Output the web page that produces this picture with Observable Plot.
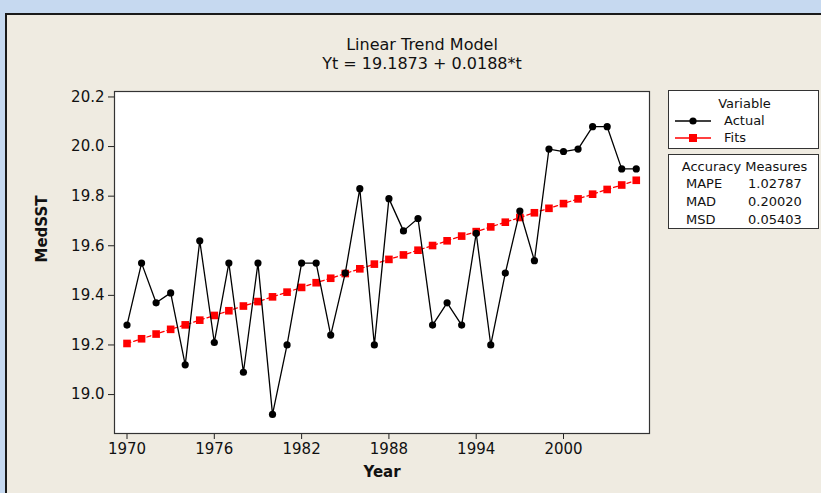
<!DOCTYPE html>
<html><head><meta charset="utf-8">
<script src="https://cdn.jsdelivr.net/npm/d3@7"></script>
<script src="https://cdn.jsdelivr.net/npm/@observablehq/plot@0.6"></script>
<style>
html,body{margin:0;padding:0;}
body{background:#c6d9f0;width:821px;height:493px;overflow:hidden;position:relative;font-family:"DejaVu Sans",Verdana,sans-serif;color:#111;}
#panel{position:absolute;left:5px;top:13px;width:816px;height:480px;background:#efebe1;border-left:2px solid #1a1a1a;border-top:2px solid #1a1a1a;box-sizing:border-box;}
#chart{position:absolute;left:0;top:0;}
.box{position:absolute;background:#fff;border:1px solid #333;box-sizing:border-box;font-size:13px;}
.t{position:absolute;white-space:nowrap;line-height:15px;}
</style>
</head><body>
<div id="panel"></div>
<div id="chart"></div>
<div class="box" style="left:668px;top:90px;width:151px;height:59px;">
  <div class="t" style="left:0;width:151px;text-align:center;top:5px;">Variable</div>
  <svg style="position:absolute;left:4px;top:23px" width="40" height="14"><line x1="2" y1="7" x2="38" y2="7" stroke="#000" stroke-width="1.3"/><circle cx="20" cy="7" r="3.6" fill="#000"/></svg>
  <div class="t" style="left:55px;top:22px;">Actual</div>
  <svg style="position:absolute;left:4px;top:40px" width="40" height="14"><line x1="2" y1="7" x2="38" y2="7" stroke="#ff0000" stroke-width="1.3"/><rect x="16" y="3" width="8" height="8" fill="#ff0000"/></svg>
  <div class="t" style="left:55px;top:39px;">Fits</div>
</div>
<div class="box" style="left:668px;top:154px;width:151px;height:75px;">
  <div class="t" style="left:0;width:151px;text-align:center;top:4px;">Accuracy Measures</div>
  <div class="t" style="left:17px;top:21px;">MAPE</div><div class="t" style="left:79px;top:21px;">1.02787</div>
  <div class="t" style="left:17px;top:39px;">MAD</div><div class="t" style="left:79px;top:39px;">0.20020</div>
  <div class="t" style="left:17px;top:57px;">MSD</div><div class="t" style="left:79px;top:57px;">0.05403</div>
</div>
<script>
const years = [1970,1971,1972,1973,1974,1975,1976,1977,1978,1979,1980,1981,1982,1983,1984,1985,1986,1987,1988,1989,1990,1991,1992,1993,1994,1995,1996,1997,1998,1999,2000,2001,2002,2003,2004,2005];
const actual = [19.28,19.53,19.37,19.41,19.12,19.62,19.21,19.53,19.09,19.53,18.92,19.20,19.53,19.53,19.24,19.49,19.83,19.20,19.79,19.66,19.71,19.28,19.37,19.28,19.65,19.20,19.49,19.74,19.54,19.99,19.98,19.99,20.08,20.08,19.91,19.91];
const fits = [19.206,19.225,19.244,19.263,19.281,19.300,19.319,19.338,19.357,19.375,19.394,19.413,19.432,19.451,19.469,19.488,19.507,19.526,19.545,19.563,19.582,19.601,19.620,19.639,19.657,19.676,19.695,19.714,19.733,19.751,19.770,19.789,19.808,19.827,19.845,19.864];
const xTicks = [1970,1976,1982,1988,1994,2000];
const yTicks = [19.0,19.2,19.4,19.6,19.8,20.0,20.2];
const title = "Linear Trend Model";
const subtitle = "Yt = 19.1873 + 0.0188*t";
const xLabel = "Year";
const yLabel = "MedSST";

const rowsA = years.map((y,i)=>({year:y, value:actual[i]}));
const rowsF = years.map((y,i)=>({year:y, value:fits[i]}));

const chart = Plot.plot({
  width: 821, height: 493,
  marginLeft: 114, marginRight: 172, marginTop: 91, marginBottom: 60,
  style: {background:"transparent", fontFamily:"DejaVu Sans, Verdana, sans-serif", fontSize:"15px", color:"#111"},
  x: {domain:[1969.14, 2005.91]},
  y: {domain:[18.843, 20.222]},
  marks: [
    Plot.frame({fill:"#fff", stroke:null}),
    Plot.axisX({ticks:xTicks, tickFormat:"d", tickSize:6, tickPadding:4, label:null, stroke:"#222"}),
    Plot.axisY({ticks:yTicks, tickFormat:".1f", tickSize:6, tickPadding:4, label:null, stroke:"#222"}),
    Plot.line(rowsF, {x:"year", y:"value", stroke:"#ff0000", strokeWidth:1.3, strokeDasharray:"4,3"}),
    Plot.dot(rowsF, {x:"year", y:"value", symbol:"square", r:4.3, fill:"#ff0000", stroke:null}),
    Plot.line(rowsA, {x:"year", y:"value", stroke:"#000", strokeWidth:1.3}),
    Plot.dot(rowsA, {x:"year", y:"value", r:3.6, fill:"#000", stroke:null}),
    Plot.frame({stroke:"#333", strokeWidth:1.2}),
    Plot.text([title], {frameAnchor:"top", dx:40, dy:-53, fontSize:16, fill:"#111"}),
    Plot.text([subtitle], {frameAnchor:"top", dx:40, dy:-34, fontSize:16, fill:"#111"}),
    Plot.text([xLabel], {frameAnchor:"bottom", dy:43, fontSize:15, fontWeight:"bold", fill:"#111"}),
    Plot.text([yLabel], {frameAnchor:"left", dx:-72, rotate:-90, fontSize:15, fontWeight:"bold", fill:"#111"})
  ]
});
document.getElementById("chart").appendChild(chart);
</script>
</body></html>
